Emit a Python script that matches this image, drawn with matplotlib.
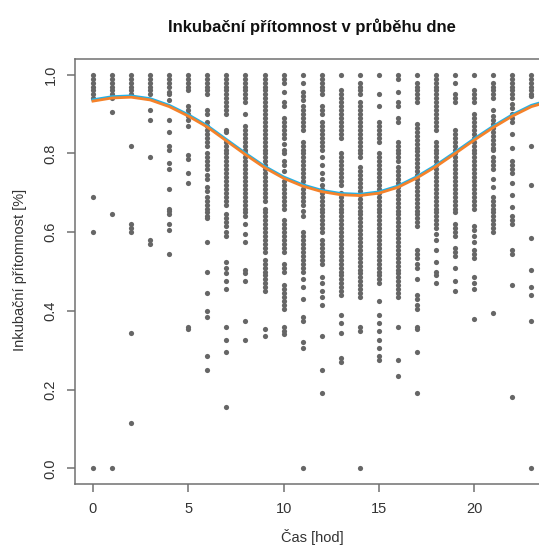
import matplotlib
matplotlib.use('Agg')
import matplotlib.pyplot as plt
import numpy as np

plt.rcParams['font.family'] = ['Liberation Sans', 'DejaVu Sans']

# hodnoty inkubacni pritomnosti pro kazdou hodinu
hour_00 = [1.00, 0.99, 0.98, 0.97, 0.96, 0.95, 0.94, 0.69, 0.60, 0.00]
hour_01 = [1.00, 0.99, 0.98, 0.97, 0.96, 0.95, 0.94, 0.905, 0.645, 0.00]
hour_02 = [1.00, 0.99, 0.98, 0.97, 0.96, 0.95, 0.82, 0.62, 0.61, 0.60, 0.345, 0.115]
hour_03 = [1.00, 0.99, 0.98, 0.97, 0.96, 0.95, 0.91, 0.885, 0.79, 0.58, 0.57]
hour_04 = [1.00, 0.99, 0.98, 0.97, 0.955, 0.95, 0.935, 0.885, 0.855, 0.82, 0.81,
           0.775, 0.76, 0.71, 0.66, 0.655, 0.645, 0.62, 0.605, 0.545]
hour_05 = [1.00, 0.99, 0.98, 0.97, 0.96, 0.92, 0.91, 0.90, 0.895, 0.885, 0.87,
           0.795, 0.785, 0.75, 0.725, 0.36, 0.355]
hour_06 = [1.00, 0.99, 0.98, 0.97, 0.96, 0.95, 0.91, 0.90, 0.88, 0.87, 0.86, 0.85,
           0.84, 0.83, 0.82, 0.80, 0.79, 0.78, 0.77, 0.76, 0.745, 0.735, 0.715,
           0.705, 0.69, 0.68, 0.67, 0.66, 0.65, 0.64, 0.635, 0.575, 0.50, 0.445,
           0.40, 0.385, 0.285, 0.25]
hour_07 = [1.00, 0.99, 0.98, 0.97, 0.96, 0.95, 0.94, 0.93, 0.92, 0.91, 0.90, 0.86,
           0.855, 0.83, 0.82, 0.81, 0.80, 0.79, 0.78, 0.77, 0.76, 0.75, 0.74, 0.73,
           0.72, 0.71, 0.70, 0.69, 0.68, 0.67, 0.645, 0.635, 0.625, 0.615, 0.60,
           0.59, 0.525, 0.51, 0.495, 0.475, 0.455, 0.36, 0.325, 0.295, 0.155]
hour_08 = [1.00, 0.99, 0.98, 0.97, 0.96, 0.95, 0.94, 0.93, 0.90, 0.87, 0.86, 0.85,
           0.84, 0.83, 0.82, 0.81, 0.80, 0.79, 0.78, 0.77, 0.76, 0.75, 0.74, 0.73,
           0.72, 0.71, 0.70, 0.69, 0.68, 0.67, 0.66, 0.65, 0.64, 0.62, 0.595,
           0.575, 0.505, 0.495, 0.475, 0.375, 0.325]
hour_09 = [1.00, 0.99, 0.98, 0.97, 0.96, 0.95, 0.94, 0.93, 0.92, 0.91, 0.90, 0.89,
           0.88, 0.87, 0.86, 0.85, 0.84, 0.83, 0.82, 0.81, 0.80, 0.79, 0.78, 0.77,
           0.76, 0.75, 0.74, 0.73, 0.72, 0.71, 0.70, 0.69, 0.68, 0.66, 0.65, 0.64,
           0.63, 0.62, 0.61, 0.60, 0.59, 0.58, 0.57, 0.56, 0.55, 0.53, 0.52, 0.51,
           0.50, 0.49, 0.48, 0.47, 0.46, 0.45, 0.355, 0.335]
hour_10 = [1.00, 0.99, 0.98, 0.955, 0.93, 0.92, 0.89, 0.88, 0.87, 0.86, 0.85, 0.84,
           0.825, 0.81, 0.80, 0.78, 0.77, 0.755, 0.73, 0.72, 0.71, 0.70, 0.69, 0.68,
           0.67, 0.66, 0.63, 0.62, 0.61, 0.60, 0.59, 0.58, 0.57, 0.56, 0.55, 0.52,
           0.51, 0.50, 0.465, 0.455, 0.445, 0.435, 0.425, 0.415, 0.405, 0.36, 0.35,
           0.34]
hour_11 = [1.00, 0.98, 0.955, 0.945, 0.935, 0.92, 0.91, 0.90, 0.89, 0.88, 0.87,
           0.86, 0.83, 0.82, 0.81, 0.80, 0.79, 0.78, 0.77, 0.76, 0.75, 0.74, 0.73,
           0.72, 0.71, 0.70, 0.69, 0.68, 0.67, 0.655, 0.64, 0.60, 0.59, 0.58, 0.57,
           0.56, 0.55, 0.54, 0.53, 0.52, 0.51, 0.50, 0.48, 0.46, 0.43, 0.385, 0.375,
           0.32, 0.305, 0.00]
hour_12 = [1.00, 0.99, 0.98, 0.97, 0.96, 0.95, 0.92, 0.91, 0.90, 0.88, 0.87, 0.86,
           0.85, 0.84, 0.83, 0.82, 0.81, 0.79, 0.77, 0.75, 0.735, 0.72, 0.71, 0.70,
           0.69, 0.68, 0.67, 0.66, 0.65, 0.64, 0.63, 0.62, 0.61, 0.60, 0.58, 0.57,
           0.56, 0.55, 0.54, 0.53, 0.52, 0.485, 0.47, 0.45, 0.435, 0.415, 0.335,
           0.25, 0.19]
hour_13 = [1.00, 0.96, 0.95, 0.94, 0.93, 0.92, 0.91, 0.90, 0.89, 0.88, 0.87, 0.86,
           0.85, 0.84, 0.80, 0.79, 0.78, 0.77, 0.76, 0.75, 0.74, 0.73, 0.72, 0.70,
           0.69, 0.68, 0.67, 0.66, 0.65, 0.64, 0.63, 0.62, 0.61, 0.60, 0.59, 0.58,
           0.57, 0.56, 0.55, 0.54, 0.53, 0.52, 0.51, 0.50, 0.49, 0.48, 0.47, 0.46,
           0.45, 0.44, 0.39, 0.37, 0.345, 0.28, 0.27]
hour_14 = [1.00, 0.98, 0.97, 0.96, 0.95, 0.93, 0.92, 0.91, 0.90, 0.89, 0.88, 0.87,
           0.86, 0.85, 0.84, 0.83, 0.82, 0.81, 0.80, 0.79, 0.765, 0.755, 0.745,
           0.735, 0.725, 0.715, 0.705, 0.695, 0.685, 0.675, 0.665, 0.655, 0.645,
           0.635, 0.625, 0.615, 0.605, 0.595, 0.585, 0.575, 0.565, 0.555, 0.545,
           0.535, 0.525, 0.515, 0.505, 0.495, 0.485, 0.475, 0.465, 0.455, 0.445,
           0.435, 0.36, 0.35, 0.00]
hour_15 = [1.00, 0.95, 0.92, 0.88, 0.87, 0.86, 0.85, 0.84, 0.83, 0.80, 0.79, 0.78,
           0.77, 0.76, 0.75, 0.74, 0.73, 0.72, 0.71, 0.70, 0.69, 0.68, 0.67, 0.66,
           0.65, 0.64, 0.63, 0.62, 0.61, 0.60, 0.59, 0.58, 0.57, 0.56, 0.55, 0.54,
           0.53, 0.52, 0.51, 0.50, 0.49, 0.48, 0.47, 0.425, 0.39, 0.37, 0.35, 0.325,
           0.305, 0.285, 0.275]
hour_16 = [1.00, 0.99, 0.955, 0.93, 0.92, 0.89, 0.88, 0.83, 0.82, 0.81, 0.80, 0.79,
           0.78, 0.765, 0.755, 0.745, 0.735, 0.725, 0.715, 0.705, 0.695, 0.685,
           0.675, 0.665, 0.655, 0.645, 0.635, 0.625, 0.615, 0.605, 0.595, 0.585,
           0.575, 0.565, 0.555, 0.545, 0.535, 0.525, 0.515, 0.505, 0.495, 0.485,
           0.475, 0.465, 0.455, 0.445, 0.435, 0.36, 0.275, 0.235]
hour_17 = [1.00, 0.98, 0.97, 0.96, 0.95, 0.94, 0.93, 0.875, 0.865, 0.855, 0.845,
           0.835, 0.825, 0.815, 0.805, 0.795, 0.785, 0.775, 0.765, 0.755, 0.745,
           0.735, 0.725, 0.715, 0.705, 0.695, 0.685, 0.675, 0.665, 0.655, 0.645,
           0.635, 0.625, 0.615, 0.555, 0.545, 0.535, 0.52, 0.51, 0.48, 0.44, 0.43,
           0.415, 0.405, 0.36, 0.355, 0.295, 0.19]
hour_18 = [1.00, 0.99, 0.98, 0.97, 0.96, 0.95, 0.94, 0.93, 0.92, 0.91, 0.90, 0.89,
           0.88, 0.87, 0.86, 0.83, 0.82, 0.81, 0.80, 0.79, 0.78, 0.77, 0.76, 0.75,
           0.74, 0.73, 0.72, 0.71, 0.70, 0.69, 0.68, 0.67, 0.66, 0.65, 0.64, 0.63,
           0.62, 0.61, 0.595, 0.58, 0.555, 0.525, 0.50, 0.49, 0.47]
hour_19 = [1.00, 0.98, 0.95, 0.94, 0.93, 0.86, 0.85, 0.84, 0.83, 0.82, 0.81, 0.80,
           0.79, 0.78, 0.77, 0.76, 0.75, 0.74, 0.73, 0.72, 0.71, 0.70, 0.69, 0.68,
           0.67, 0.66, 0.65, 0.62, 0.61, 0.60, 0.59, 0.56, 0.55, 0.54, 0.51, 0.475,
           0.45]
hour_20 = [1.00, 0.96, 0.95, 0.94, 0.93, 0.90, 0.89, 0.88, 0.87, 0.86, 0.85, 0.84,
           0.83, 0.82, 0.81, 0.80, 0.79, 0.78, 0.77, 0.76, 0.75, 0.74, 0.73, 0.72,
           0.71, 0.70, 0.69, 0.68, 0.67, 0.66, 0.615, 0.605, 0.59, 0.575, 0.555,
           0.545, 0.535, 0.485, 0.47, 0.455, 0.38]
hour_21 = [1.00, 0.98, 0.97, 0.96, 0.95, 0.94, 0.91, 0.895, 0.885, 0.875, 0.865,
           0.855, 0.845, 0.835, 0.825, 0.815, 0.81, 0.79, 0.78, 0.77, 0.76, 0.735,
           0.715, 0.69, 0.68, 0.67, 0.66, 0.65, 0.64, 0.63, 0.62, 0.61, 0.60, 0.395]
hour_22 = [1.00, 0.99, 0.98, 0.97, 0.96, 0.95, 0.94, 0.925, 0.915, 0.90, 0.89, 0.88,
           0.85, 0.815, 0.78, 0.77, 0.76, 0.75, 0.725, 0.695, 0.665, 0.64, 0.63,
           0.62, 0.555, 0.545, 0.465, 0.18]
hour_23 = [1.00, 0.99, 0.98, 0.97, 0.96, 0.95, 0.945, 0.82, 0.72, 0.585, 0.505,
           0.46, 0.44, 0.375, 0.00]

# prolozene krivky
fit_hours = list(range(25))
fit_orange = [0.933, 0.941, 0.943, 0.936, 0.919, 0.895, 0.867, 0.832, 0.797, 0.764,
              0.737, 0.717, 0.703, 0.695, 0.693, 0.699, 0.714, 0.738, 0.767, 0.800,
              0.834, 0.866, 0.895, 0.919, 0.933]
fit_blue = [0.936, 0.944, 0.946, 0.939, 0.922, 0.898, 0.870, 0.835, 0.800, 0.767,
            0.740, 0.720, 0.706, 0.698, 0.696, 0.702, 0.717, 0.741, 0.770, 0.803,
            0.837, 0.869, 0.898, 0.922, 0.936]

columns = [hour_00, hour_01, hour_02, hour_03, hour_04, hour_05, hour_06, hour_07,
           hour_08, hour_09, hour_10, hour_11, hour_12, hour_13, hour_14, hour_15,
           hour_16, hour_17, hour_18, hour_19, hour_20, hour_21, hour_22, hour_23]

xs = []
ys = []
for h, vals in enumerate(columns):
    xs += [h] * len(vals)
    ys += vals

fig = plt.figure(figsize=(5.39, 5.5), dpi=100)
ax = fig.add_axes([0.140, 0.12, 0.8785, 0.7727])

ax.scatter(xs, ys, s=14, color='#666666', linewidths=0, zorder=2)
ax.plot(fit_hours, fit_blue, color='#22b2e8', lw=2.2, zorder=3)
ax.plot(fit_hours, fit_orange, color='#f5822a', lw=2.0, zorder=3)

ax.set_xlim(-0.92, 23.92)
ax.set_ylim(-0.04, 1.04)
ax.set_xticks([0, 5, 10, 15, 20])
ax.set_yticks([0.0, 0.2, 0.4, 0.6, 0.8, 1.0])
ax.set_yticklabels(['0.0', '0.2', '0.4', '0.6', '0.8', '1.0'], rotation=90, va='center')

for s in ['top', 'bottom', 'left', 'right']:
    ax.spines[s].set_color('#707070')
    ax.spines[s].set_linewidth(1.1)
ax.tick_params(axis='both', length=6, width=1.1, color='#707070',
               labelcolor='#333333', labelsize=10.5, pad=7)

fig.text(0.579, 1 - 27 / 550, 'Inkubační přítomnost v průběhu dne',
         ha='center', va='center', fontsize=12, fontweight='bold', color='#111111')
fig.text(0.579, 1 - 537 / 550, 'Čas [hod]', ha='center', va='center',
         fontsize=10.5, color='#333333')
fig.text(20 / 539, 1 - 270 / 550, 'Inkubační přítomnost [%]', ha='center', va='center',
         rotation=90, fontsize=10.5, color='#333333')

fig.savefig('out.png', dpi=100)
